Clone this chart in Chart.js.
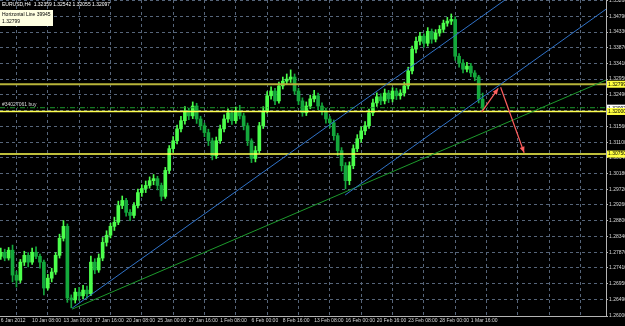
<!DOCTYPE html>
<html>
<head>
<meta charset="utf-8">
<script src="https://cdn.jsdelivr.net/npm/chart.js@4.4.1/dist/chart.umd.min.js"></script>
<style>
  html, body { margin: 0; padding: 0; background: #000; overflow: hidden; }
  canvas { display: block; }
</style>
</head>
<body>
<canvas id="chart" width="625" height="326"></canvas>
<script>
// EURUSD H4, one candle per two H4 bars (6 Jan - 2 Mar 2012)
const opens = [1.2775,1.2787,1.2770,1.2793,1.2720,1.2705,1.2758,1.2778,1.2758,1.2787,
  1.2775,1.2758,1.2682,1.2711,1.2729,1.2778,1.2828,1.2863,1.2653,1.2647,
  1.2670,1.2659,1.2676,1.2665,1.2758,1.2735,1.2770,1.2816,1.2837,1.2863,
  1.2875,1.2924,1.2939,1.2904,1.2895,1.2924,1.2962,1.2974,1.2983,1.2997,
  1.3003,1.2983,1.2951,1.3027,1.3091,1.3114,1.3149,1.3173,1.3202,1.3187,
  1.3216,1.3178,1.3158,1.3138,1.3114,1.3070,1.3114,1.3149,1.3178,1.3196,
  1.3173,1.3202,1.3187,1.3158,1.3114,1.3062,1.3085,1.3158,1.3202,1.3246,
  1.3260,1.3231,1.3275,1.3289,1.3295,1.3301,1.3260,1.3231,1.3196,1.3216,
  1.3237,1.3246,1.3216,1.3202,1.3178,1.3167,1.3129,1.3085,1.3041,1.2997,
  1.3041,1.3091,1.3120,1.3143,1.3158,1.3196,1.3225,1.3243,1.3231,1.3254,
  1.3237,1.3260,1.3246,1.3254,1.3275,1.3319,1.3383,1.3406,1.3421,1.3400,
  1.3435,1.3412,1.3430,1.3441,1.3459,1.3465,1.3470,1.3362,1.3342,1.3324,
  1.3333,1.3313,1.3301,1.3236];
const highs = [1.2799,1.2796,1.2801,1.2808,1.2731,1.2766,1.2790,1.2786,1.2799,1.2803,
  1.2782,1.2764,1.2722,1.2740,1.2786,1.2840,1.2880,1.2870,1.2662,1.2681,
  1.2684,1.2690,1.2688,1.2776,1.2768,1.2782,1.2830,1.2850,1.2872,1.2890,
  1.2937,1.2952,1.2945,1.2912,1.2933,1.2972,1.2985,1.2996,1.3008,1.3015,
  1.3010,1.2990,1.3036,1.3100,1.3126,1.3160,1.3186,1.3214,1.3210,1.3228,
  1.3224,1.3186,1.3166,1.3148,1.3122,1.3125,1.3160,1.3190,1.3208,1.3205,
  1.3213,1.3218,1.3195,1.3166,1.3120,1.3098,1.3168,1.3214,1.3258,1.3272,
  1.3268,1.3286,1.3301,1.3310,1.3322,1.3310,1.3268,1.3240,1.3228,1.3248,
  1.3262,1.3254,1.3225,1.3210,1.3186,1.3175,1.3136,1.3094,1.3050,1.3052,
  1.3102,1.3132,1.3155,1.3170,1.3207,1.3236,1.3255,1.3252,1.3266,1.3262,
  1.3270,1.3268,1.3264,1.3286,1.3330,1.3392,1.3418,1.3432,1.3428,1.3446,
  1.3442,1.3440,1.3452,1.3468,1.3476,1.3486,1.3478,1.3370,1.3352,1.3344,
  1.3341,1.3320,1.3306,1.3254];
const lows = [1.2766,1.2762,1.2764,1.2700,1.2685,1.2698,1.2748,1.2744,1.2751,1.2768,
  1.2740,1.2662,1.2676,1.2700,1.2722,1.2770,1.2820,1.2640,1.2624,1.2638,
  1.2646,1.2650,1.2652,1.2660,1.2724,1.2728,1.2762,1.2805,1.2829,1.2851,
  1.2868,1.2915,1.2893,1.2880,1.2888,1.2917,1.2951,1.2962,1.2975,1.2985,
  1.2970,1.2938,1.2945,1.3018,1.3080,1.3105,1.3140,1.3163,1.3176,1.3179,
  1.3165,1.3146,1.3126,1.3100,1.3058,1.3062,1.3106,1.3140,1.3168,1.3162,
  1.3165,1.3178,1.3146,1.3100,1.3050,1.3052,1.3078,1.3150,1.3195,1.3236,
  1.3220,1.3224,1.3266,1.3279,1.3285,1.3250,1.3220,1.3186,1.3188,1.3208,
  1.3228,1.3205,1.3190,1.3166,1.3152,1.3116,1.3070,1.3025,1.2973,1.2985,
  1.3032,1.3082,1.3110,1.3132,1.3150,1.3188,1.3215,1.3220,1.3222,1.3226,
  1.3228,1.3235,1.3236,1.3245,1.3266,1.3310,1.3372,1.3395,1.3388,1.3392,
  1.3400,1.3404,1.3421,1.3432,1.3450,1.3455,1.3350,1.3330,1.3313,1.3316,
  1.3302,1.3290,1.3225,1.3205];
const closes = [1.2787,1.2770,1.2793,1.2720,1.2705,1.2758,1.2778,1.2758,1.2787,1.2775,
  1.2758,1.2682,1.2711,1.2729,1.2778,1.2828,1.2863,1.2653,1.2647,1.2670,
  1.2659,1.2676,1.2665,1.2758,1.2735,1.2770,1.2816,1.2837,1.2863,1.2875,
  1.2924,1.2939,1.2904,1.2895,1.2924,1.2962,1.2974,1.2983,1.2997,1.3003,
  1.2983,1.2951,1.3027,1.3091,1.3114,1.3149,1.3173,1.3202,1.3187,1.3216,
  1.3178,1.3158,1.3138,1.3114,1.3070,1.3114,1.3149,1.3178,1.3196,1.3173,
  1.3202,1.3187,1.3158,1.3114,1.3062,1.3085,1.3158,1.3202,1.3246,1.3260,
  1.3231,1.3275,1.3289,1.3295,1.3301,1.3260,1.3231,1.3196,1.3216,1.3237,
  1.3246,1.3216,1.3202,1.3178,1.3167,1.3129,1.3085,1.3041,1.2997,1.3041,
  1.3091,1.3120,1.3143,1.3158,1.3196,1.3225,1.3243,1.3231,1.3254,1.3237,
  1.3260,1.3246,1.3254,1.3275,1.3319,1.3383,1.3406,1.3421,1.3400,1.3435,
  1.3412,1.3430,1.3441,1.3459,1.3465,1.3470,1.3362,1.3342,1.3324,1.3333,
  1.3313,1.3301,1.3236,1.3210];

// time axis labels, one every 8 candles
const xTickLabels = ['6 Jan 2012','10 Jan 08:00','13 Jan 00:00','17 Jan 16:00','20 Jan 08:00',
  '25 Jan 00:00','27 Jan 16:00','1 Feb 08:00','6 Feb 00:00','8 Feb 16:00','13 Feb 08:00',
  '16 Feb 00:00','20 Feb 16:00','23 Feb 08:00','28 Feb 00:00','1 Mar 16:00'];
const xTickStep = 8;
const yTickValues = [1.26000,1.26490,1.26950,1.27410,1.27870,1.28340,1.28800,1.29260,1.29720,
  1.30180,1.30640,1.31100,1.31560,1.32030,1.32490,1.32950,1.33410,1.33870,1.34330,1.34790,1.35260];

// objects on the chart
const hLines = [1.32799, 1.32000, 1.30750];
const orderPrice = 1.3211;
const bidPrice = 1.32097;
const upperChannel = [[18.2, 1.2623], [128.7, 1.3527]];
const lowerChannel = [[87.9, 1.2955], [154.5, 1.3500]];
const greenTrend = [[18.2, 1.2620], [154.5, 1.3292]];
const arrowUp = [[122.8, 1.3199], [127.0, 1.3268]];
const arrowDown = [[127.6, 1.3271], [133.6, 1.3079]];

const xMin = -0.2, xMax = 154.5;
const yMin = 1.2600, yMax = 1.3527;

const gridColor = '#56657a';
const axisColor = '#b4b4b4';
const textColor = '#d8d8d8';
const bullColor = '#4cff4c';
const bearColor = '#14a83c';
const fontFamily = '"Liberation Sans", Arial, sans-serif';

const candleColors = closes.map((c, i) => c >= opens[i] ? bullColor : bearColor);
const xTickValues = [];
for (let v = 0; v <= xMax; v += xTickStep) xTickValues.push(v);

function pts(arr) { return arr.map(p => ({ x: p[0], y: p[1] })); }
function lineDs(data, color, width, extra) {
  return Object.assign({ type: 'line', data: pts(data), borderColor: color, borderWidth: width,
    pointRadius: 0, fill: false, tension: 0, order: 0 }, extra || {});
}

const datasets = [
  lineDs(arrowUp, '#ff5f5f', 1.2, { arrow: true }),
  lineDs(arrowDown, '#ff5f5f', 1.2, { arrow: true }),
  lineDs(upperChannel, '#2f72c8', 1),
  lineDs(lowerChannel, '#2f72c8', 1),
  lineDs(greenTrend, '#1c9a2c', 1),
  lineDs([[xMin, hLines[0]], [xMax, hLines[0]]], '#b8b43a', 2),
  lineDs([[xMin, hLines[1]], [xMax, hLines[1]]], '#ffff50', 1.5),
  lineDs([[xMin, hLines[2]], [xMax, hLines[2]]], '#ffff50', 1.5),
  lineDs([[xMin, orderPrice], [xMax, orderPrice]], '#1c9a2c', 1, { borderDash: [5, 2, 1, 2] }),
  {
    type: 'bar', order: 1, grouped: false, barThickness: 3, minBarLength: 1,
    data: closes.map((c, i) => ({ x: i, y: [opens[i], c] })),
    backgroundColor: candleColors, borderWidth: 0
  },
  {
    type: 'bar', order: 2, grouped: false, barThickness: 1,
    data: closes.map((c, i) => ({ x: i, y: [lows[i], highs[i]] })),
    backgroundColor: candleColors, borderWidth: 0
  }
];

// arrow heads at the end of the red lines
const arrowHeads = {
  id: 'arrowHeads',
  afterDatasetsDraw(chart) {
    const ctx = chart.ctx;
    chart.data.datasets.forEach((ds, di) => {
      if (!ds.arrow) return;
      const els = chart.getDatasetMeta(di).data;
      const a = els[els.length - 2], b = els[els.length - 1];
      const ang = Math.atan2(b.y - a.y, b.x - a.x);
      ctx.save();
      ctx.translate(b.x, b.y);
      ctx.rotate(ang);
      ctx.fillStyle = ds.borderColor;
      ctx.beginPath();
      ctx.moveTo(0, 0);
      ctx.lineTo(-6, -2.5);
      ctx.lineTo(-6, 2.5);
      ctx.closePath();
      ctx.fill();
      ctx.restore();
    });
  }
};

// texts and price tags drawn by the terminal
const overlay = {
  id: 'overlay',
  afterDraw(chart) {
    const ctx = chart.ctx;
    const y = chart.scales.y;
    ctx.save();
    ctx.textBaseline = 'middle';
    ctx.font = '5px ' + fontFamily;
    ctx.fillStyle = '#ffffff';
    ctx.fillText('EURUSD,H4  1.32359 1.32542 1.32055 1.32097', 2, 5);

    ctx.fillStyle = '#ffffe1';
    ctx.fillRect(0, 10, 53, 16);
    ctx.fillStyle = '#000000';
    ctx.fillText('Horizontal Line 39945', 2, 14.5);
    ctx.fillText('1.32799', 2, 21.5);

    ctx.fillStyle = textColor;
    ctx.fillText('#34027061 buy', 2, 105);

    const tags = [[hLines[0], '#ffff40'], [bidPrice, '#ffffff'], [hLines[1], '#ffff40'], [hLines[2], '#ffff40']];
    tags.forEach(([v, bg]) => {
      const py = y.getPixelForValue(v);
      ctx.fillStyle = bg;
      ctx.fillRect(607, py - 3.5, 18, 7);
      ctx.fillStyle = '#000000';
      ctx.fillText(v.toFixed(5), 608, py);
    });
    ctx.restore();
  }
};

new Chart(document.getElementById('chart'), {
  type: 'bar',
  data: { datasets },
  options: {
    responsive: false,
    animation: false,
    events: [],
    layout: { padding: 0 },
    plugins: { legend: { display: false }, tooltip: { enabled: false } },
    scales: {
      x: {
        type: 'linear', min: xMin, max: xMax, offset: false,
        afterBuildTicks: s => { s.ticks = xTickValues.map(v => ({ value: v })); },
        afterFit: s => { s.height = 10; s.paddingLeft = 0; s.paddingRight = 0; },
        grid: { color: gridColor, offset: true, drawTicks: false },
        border: { color: axisColor, dash: [3, 3] },
        ticks: {
          autoSkip: false, maxRotation: 0, align: 'start', padding: 2,
          color: textColor, font: { size: 5, family: fontFamily },
          callback: (v, i) => xTickLabels[i] || ''
        }
      },
      y: {
        position: 'right', min: yMin, max: yMax,
        afterBuildTicks: s => { s.ticks = yTickValues.map(v => ({ value: v })); },
        afterFit: s => { s.width = 19; s.paddingTop = 0; s.paddingBottom = 0; },
        grid: { color: gridColor, tickLength: 2, tickColor: axisColor },
        border: { color: axisColor, dash: [3, 3] },
        ticks: {
          padding: 1, color: textColor, font: { size: 5, family: fontFamily },
          callback: v => v.toFixed(5)
        }
      }
    }
  },
  plugins: [arrowHeads, overlay]
});
</script>
</body>
</html>
